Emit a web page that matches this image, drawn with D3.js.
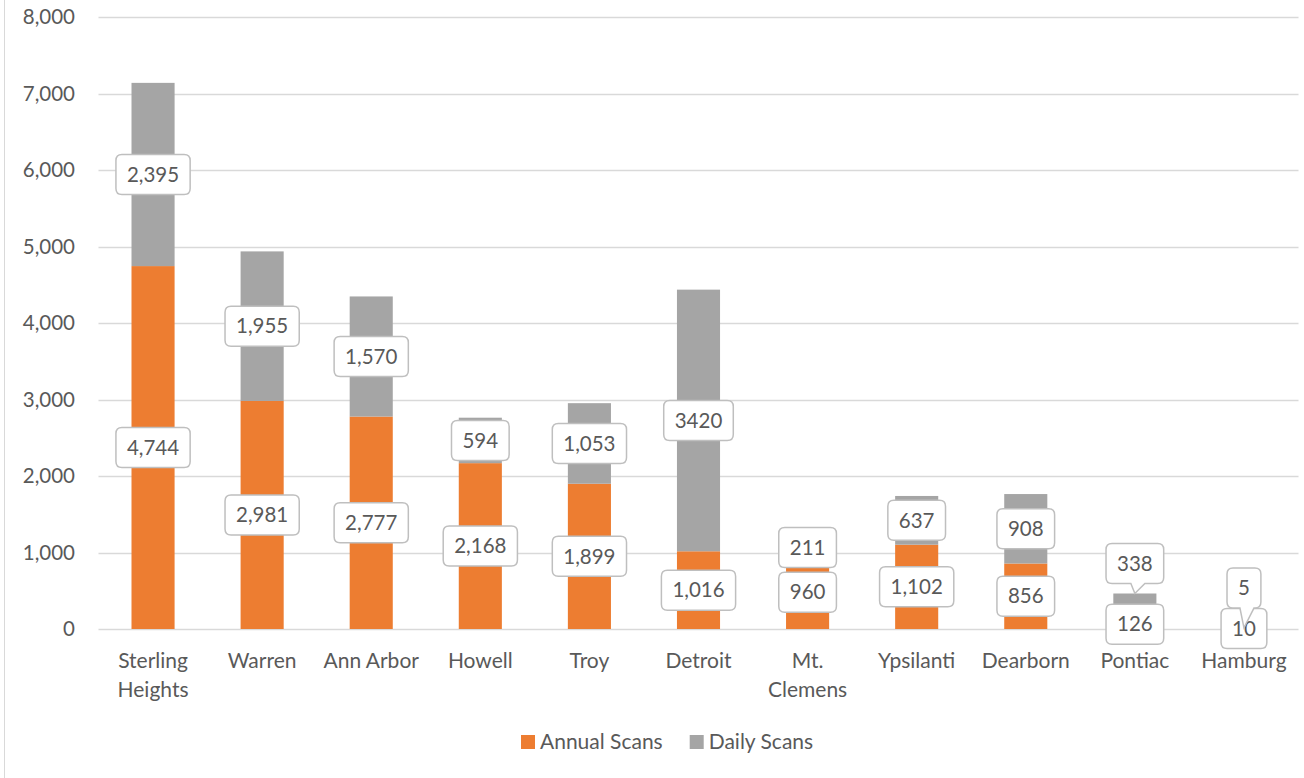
<!DOCTYPE html>
<html><head><meta charset="utf-8">
<script src="https://cdn.jsdelivr.net/npm/d3@7"></script>
<style>
html,body{margin:0;padding:0;background:#fff;}
svg{display:block;font-family:Lato,"Open Sans",sans-serif;}
</style></head>
<body>
<svg id="chart" width="1304" height="778"></svg>
<script>
const categories = [["Sterling","Heights"],["Warren"],["Ann Arbor"],["Howell"],["Troy"],["Detroit"],["Mt.","Clemens"],["Ypsilanti"],["Dearborn"],["Pontiac"],["Hamburg"]];
const annualScans = [4744, 2981, 2777, 2168, 1899, 1016, 960, 1102, 856, 126, 10];
const dailyScans  = [2395, 1955, 1570, 594, 1053, 3420, 211, 637, 908, 338, 5];
const annualLabels = ["4,744","2,981","2,777","2,168","1,899","1,016","960","1,102","856","126","10"];
const dailyLabels  = ["2,395","1,955","1,570","594","1,053","3420","211","637","908","338","5"];
const yTicks = [0,1000,2000,3000,4000,5000,6000,7000,8000];
const seriesNames = ["Annual Scans","Daily Scans"];

const colors = ["#ED7D31","#A5A5A5"];
const textColor = "#595959";
const svg = d3.select("#chart");

// chart border (left edge visible)
svg.append("line").attr("x1",4.5).attr("x2",4.5).attr("y1",0).attr("y2",778)
  .attr("stroke","#d9d9d9").attr("stroke-width",1);

const x = d3.scaleBand().domain(d3.range(categories.length)).range([98.5,1298.5])
  .paddingInner(0.605).paddingOuter(0.3025);
const y = d3.scaleLinear().domain([0,8000]).range([629,17]);

// gridlines
svg.append("g").selectAll("line").data(yTicks).join("line")
  .attr("x1",98.5).attr("x2",1298.5)
  .attr("y1",d=>Math.round(y(d))+0.5).attr("y2",d=>Math.round(y(d))+0.5)
  .attr("stroke","#d9d9d9").attr("stroke-width",1.3);

// y axis labels
const yAxis = d3.axisLeft(y).tickValues(yTicks).tickFormat(d3.format(",")).tickSize(0).tickPadding(0);
const gy = svg.append("g").attr("transform","translate(75,0)").call(yAxis);
gy.select(".domain").remove();
gy.selectAll("text").attr("fill",textColor).style("font-size","20.5px").style("font-family","Lato,sans-serif");

// stacked data
const stackData = categories.map((c,i)=>({i, a:annualScans[i], d:dailyScans[i]}));
const stack = d3.stack().keys(["a","d"])(stackData);

stack.forEach((layer,k)=>{
  svg.append("g").selectAll("rect").data(layer).join("rect")
    .attr("x",(d,i)=>x(i)).attr("width",x.bandwidth())
    .attr("y",d=>y(d[1])).attr("height",d=>y(d[0])-y(d[1]))
    .attr("fill",colors[k]);
});

// x labels
const gx = svg.append("g");
categories.forEach((lines,i)=>{
  const t = gx.append("text").attr("x",x(i)+x.bandwidth()/2).attr("y",668)
    .attr("text-anchor","middle").attr("fill",textColor).style("font-size","21px");
  lines.forEach((ln,j)=>t.append("tspan").attr("x",x(i)+x.bandwidth()/2).attr("dy",j?29:0).text(ln));
});

// data labels
const calloutRaise = {"1-9":-43, "1-10":-40}; // manual label placements (series-index)
const labelG = svg.append("g");
function drawLabel(txt, cx, cy, tip){
  const g = labelG.append("g");
  const path = g.append("path");
  const t = g.append("text").attr("x",cx).attr("y",cy).attr("dy","0.35em")
    .attr("text-anchor","middle").attr("fill",textColor).style("font-size","20.5px").text(txt);
  const w = t.node().getComputedTextLength()+22, h = 40, r = 6;
  const x0 = cx-w/2, y0 = cy-h/2, x1 = cx+w/2, y1 = cy+h/2;
  let p = `M${x0+r},${y0} H${x1-r} Q${x1},${y0} ${x1},${y0+r} V${y1-r} Q${x1},${y1} ${x1-r},${y1}`;
  if(tip){
    const bl = cx-4, br = cx+10;
    p += ` H${br} L${tip[0]},${tip[1]} L${bl},${y1}`;
  }
  p += ` H${x0+r} Q${x0},${y1} ${x0},${y1-r} V${y0+r} Q${x0},${y0} ${x0+r},${y0} Z`;
  path.attr("d",p).attr("fill","#fff").attr("stroke","#BFBFBF").attr("stroke-width",1.5);
  g.raise();
}
const labelSets = [annualLabels, dailyLabels];
stack.forEach((layer,k)=>{
  layer.forEach((d,i)=>{
    const cx = x(i)+x.bandwidth()/2;
    const mid = (y(d[0])+y(d[1]))/2;
    const key = k+"-"+i;
    if(calloutRaise[key]!==undefined){
      drawLabel(labelSets[k][i], cx, mid+calloutRaise[key], [cx, y(d[1])]);
    } else {
      drawLabel(labelSets[k][i], cx, mid, null);
    }
  });
});

// legend
const lg = svg.append("g");
let lx = 521;
seriesNames.forEach((n,k)=>{
  lg.append("rect").attr("x",lx).attr("y",735).attr("width",14).attr("height",14).attr("fill",colors[k]);
  const t = lg.append("text").attr("x",lx+19).attr("y",742).attr("dy","0.35em")
    .attr("fill",textColor).style("font-size","21px").text(n);
  lx += 19 + t.node().getComputedTextLength() + 27;
});
</script>
</body></html>
